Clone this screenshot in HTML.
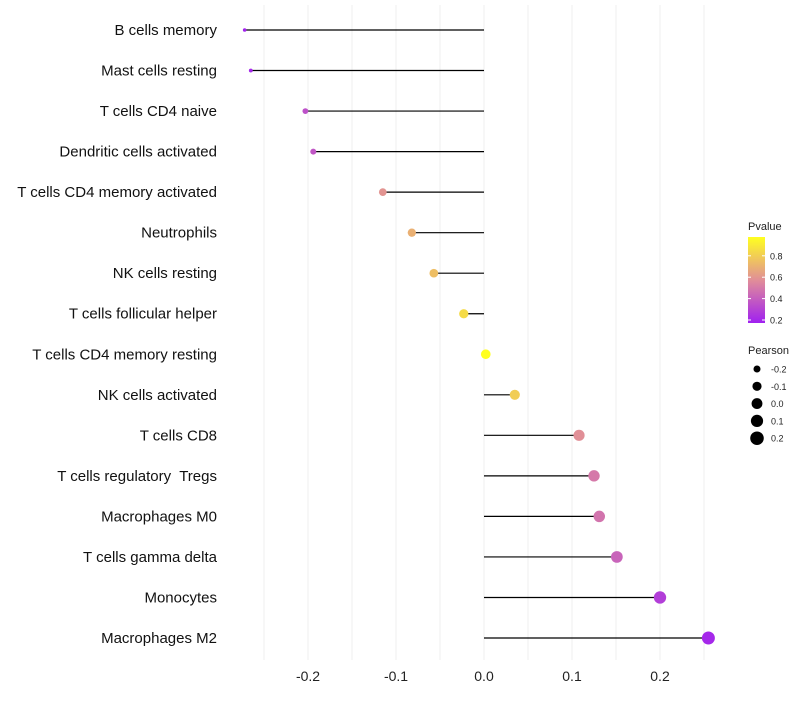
<!DOCTYPE html>
<html><head><meta charset="utf-8"><style>
body{margin:0;background:#fff;font-family:"Liberation Sans",sans-serif}
svg text{font-family:"Liberation Sans",sans-serif;white-space:pre}
</style></head><body>
<svg id="chart" width="800" height="700"></svg>
<script>
const categories=["B cells memory","Mast cells resting","T cells CD4 naive","Dendritic cells activated","T cells CD4 memory activated","Neutrophils","NK cells resting","T cells follicular helper","T cells CD4 memory resting","NK cells activated","T cells CD8","T cells regulatory  Tregs","Macrophages M0","T cells gamma delta","Monocytes","Macrophages M2"];
const pearson=[-0.272,-0.265,-0.203,-0.194,-0.115,-0.082,-0.057,-0.023,0.002,0.035,0.108,0.125,0.131,0.151,0.2,0.255];
const pvalue=[0.18,0.2,0.35,0.37,0.6,0.7,0.75,0.85,0.98,0.8,0.58,0.5,0.48,0.42,0.28,0.2];
const xTicks=[-0.2,-0.1,0.0,0.1,0.2];
const xTickLabels=["-0.2","-0.1","0.0","0.1","0.2"];
const pTicks=[0.2,0.4,0.6,0.8];
const sizeTicks=[-0.2,-0.1,0.0,0.1,0.2];

const NS="http://www.w3.org/2000/svg";
const svg=document.getElementById('chart');
const X=v=>484+v*880;
const Y=i=>30+i*(608/15);
const R=v=>Math.sqrt(3.2+(v+0.272)/0.527*38.8);
function lerp(a,b,t){return a.map((x,i)=>Math.round(x+(b[i]-x)*t));}
function col(p){const s=[[0.17,[160,32,240]],[0.57,[224,140,154]],[0.98,[255,255,32]]];
 if(p<=s[0][0])return 'rgb('+s[0][1]+')';
 for(let i=0;i<2;i++){if(p<=s[i+1][0]){return 'rgb('+lerp(s[i][1],s[i+1][1],(p-s[i][0])/(s[i+1][0]-s[i][0]))+')';}}
 return 'rgb('+s[2][1]+')';}
function el(t,a){const e=document.createElementNS(NS,t);for(const k in a)e.setAttribute(k,a[k]);svg.appendChild(e);return e;}

for(let k=-5;k<=5;k++){
 const v=k*0.05;
 const g=el('line',{x1:X(v),x2:X(v),y1:5,y2:660,stroke:'#efefef','stroke-width':1});
 
 
}
xTicks.forEach((v,i)=>{
 const t=el('text',{x:X(v),y:681,'text-anchor':'middle','font-size':14,fill:'#222'});
 t.textContent=xTickLabels[i];
 
 
});
categories.forEach((c,i)=>{
 const t=el('text',{x:217,y:Y(i)+5,'text-anchor':'end','font-size':15,fill:'#111'});
 t.textContent=c;
 
 
 const l=el('line',{x1:X(0),x2:X(pearson[i]),y1:Y(i),y2:Y(i),stroke:'#000','stroke-width':1.2});
 
 
 const d=el('circle',{cx:X(pearson[i]),cy:Y(i),r:R(pearson[i]),fill:col(pvalue[i])});
 
 
});
const defs=el('defs',{});
const lg=document.createElementNS(NS,'linearGradient');lg.setAttribute('id','pg');lg.setAttribute('x1','0');lg.setAttribute('y1','1');lg.setAttribute('x2','0');lg.setAttribute('y2','0');
[[0,'#a020f0'],[0.49,'#e08c9a'],[1,'#ffff20']].forEach(s=>{const st=document.createElementNS(NS,'stop');st.setAttribute('offset',s[0]);st.setAttribute('stop-color',s[1]);lg.appendChild(st);});
defs.appendChild(lg);
const pt=el('text',{x:748,y:230,'font-size':11,fill:'#222'});pt.textContent='Pvalue';


const bar=el('rect',{x:748,y:237,width:17,height:86,fill:'url(#pg)'});


const PY=p=>320-(p-0.2)*107;
pTicks.forEach(p=>{
 el('line',{x1:748,x2:751,y1:PY(p),y2:PY(p),stroke:'#fff'});el('line',{x1:762,x2:765,y1:PY(p),y2:PY(p),stroke:'#fff'});
 const t=el('text',{x:770,y:PY(p)+3.5,'font-size':9,fill:'#222'});t.textContent=p.toFixed(1);
 
 
});
const st=el('text',{x:748,y:354,'font-size':11,fill:'#222'});st.textContent='Pearson';


sizeTicks.forEach((v,i)=>{
 const y=369+i*17.3;
 const c=el('circle',{cx:757,cy:y,r:R(v)+0.6,fill:'#000'});
 
 
 const t=el('text',{x:771,y:y+3.5,'font-size':9,fill:'#222'});t.textContent=v.toFixed(1);
 
 
});
</script>
</body></html>
